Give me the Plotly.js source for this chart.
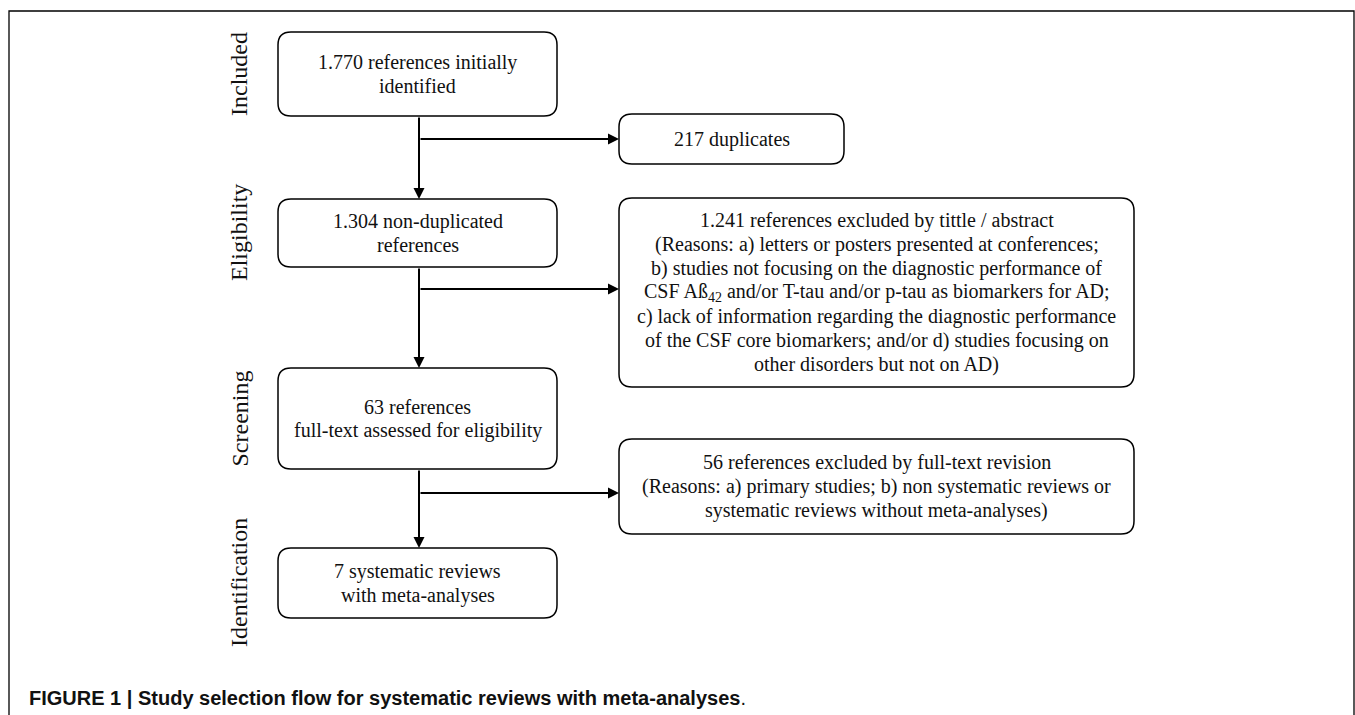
<!DOCTYPE html>
<html>
<head>
<meta charset="utf-8">
<script src="https://cdn.plot.ly/plotly-3.0.1.min.js"></script>
<style>html,body{margin:0;padding:0;background:#fff;}#chart{width:1355px;height:715px;}</style>
</head>
<body>
<div id="chart"></div>
<script>
// ---- content (data) ----
const stageLabels = ['Included', 'Eligibility', 'Screening', 'Identification'];
const mainBoxLines = [
  ['1.770 references initially', 'identified'],
  ['1.304 non-duplicated', 'references'],
  ['63 references', 'full-text assessed for eligibility'],
  ['7 systematic reviews', 'with meta-analyses']
];
const sideBoxLines = [
  ['217 duplicates'],
  ['1.241 references excluded by tittle / abstract',
   '(Reasons: a) letters or posters presented at conferences;',
   'b) studies not focusing on the diagnostic performance of',
   'CSF Aß<sub>42</sub> and/or T-tau and/or p-tau as biomarkers for AD;',
   'c) lack of information regarding the diagnostic performance',
   'of the CSF core biomarkers; and/or d) studies focusing on',
   'other disorders but not on AD)'],
  ['56 references excluded by full-text revision',
   '(Reasons: a) primary studies; b) non systematic reviews or',
   'systematic reviews without meta-analyses)']
];
const captionText = '<b>FIGURE 1 | Study selection flow for systematic reviews with meta-analyses</b>.';

// ---- geometry / layout (pixel coordinates) ----
const geo = {
  frame: {x0: 9, y0: 11, x1: 1354, y1: 740},
  main: [
    {x0: 278, x1: 557, y0: 32, y1: 116},
    {x0: 278, x1: 557, y0: 199, y1: 267},
    {x0: 278, x1: 557, y0: 368, y1: 469},
    {x0: 278, x1: 557, y0: 548, y1: 618}
  ],
  side: [
    {x0: 619, x1: 844, y0: 114, y1: 164},
    {x0: 619, x1: 1134, y0: 198, y1: 387},
    {x0: 619, x1: 1134, y0: 439, y1: 534}
  ],
  branchY: [139, 289, 493],
  spineX: 419,
  labelX: 239,
  lineGap: 24,
  radius: 13
};

const serif = 'Liberation Serif, Times New Roman, serif';
const shapes = [];
const annotations = [];

function roundRect(b, r) {
  const {x0, x1, y0, y1} = b;
  return `M${x0 + r},${y0} L${x1 - r},${y0} Q${x1},${y0} ${x1},${y0 + r} ` +
         `L${x1},${y1 - r} Q${x1},${y1} ${x1 - r},${y1} L${x0 + r},${y1} ` +
         `Q${x0},${y1} ${x0},${y1 - r} L${x0},${y0 + r} Q${x0},${y0} ${x0 + r},${y0} Z`;
}

function addBox(b, lines) {
  shapes.push({type: 'path', xref: 'x', yref: 'y', path: roundRect(b, geo.radius),
    line: {color: '#000', width: 1.5}, fillcolor: 'rgba(0,0,0,0)', layer: 'above'});
  const cx = (b.x0 + b.x1) / 2, cy = (b.y0 + b.y1) / 2;
  const n = lines.length;
  lines.forEach((t, i) => {
    annotations.push({x: cx, y: cy + (i - (n - 1) / 2) * geo.lineGap, xref: 'x', yref: 'y',
      text: t, showarrow: false, xanchor: 'center', yanchor: 'middle',
      font: {family: serif, size: 20, color: '#111'}});
  });
}

// frame
shapes.push({type: 'rect', xref: 'x', yref: 'y', x0: geo.frame.x0, x1: geo.frame.x1,
  y0: geo.frame.y0, y1: geo.frame.y1, line: {color: '#000', width: 1.3}});

geo.main.forEach((b, i) => addBox(b, mainBoxLines[i]));
geo.side.forEach((b, i) => addBox(b, sideBoxLines[i]));

function arrow(x0, y0, x1, y1) {
  annotations.push({x: x1, y: y1, ax: x0, ay: y0, xref: 'x', yref: 'y', axref: 'x', ayref: 'y',
    text: '', showarrow: true, arrowhead: 2, arrowsize: 1.1, arrowwidth: 2, arrowcolor: '#000',
    standoff: 0, startstandoff: 0});
}

// vertical arrows between main boxes
for (let i = 0; i < geo.main.length - 1; i++) {
  arrow(geo.spineX, geo.main[i].y1, geo.spineX, geo.main[i + 1].y0);
}
// side arrows
geo.branchY.forEach((y, i) => arrow(geo.spineX, y, geo.side[i].x0, y));

// stage labels
stageLabels.forEach((t, i) => {
  const b = geo.main[i];
  annotations.push({x: geo.labelX, y: (b.y0 + b.y1) / 2, xref: 'x', yref: 'y', text: t,
    textangle: -90, showarrow: false, xanchor: 'center', yanchor: 'middle',
    font: {family: serif, size: 24, color: '#111'}});
});

// caption
annotations.push({x: 27, y: 698, xref: 'x', yref: 'y', text: captionText, showarrow: false,
  xanchor: 'left', yanchor: 'middle',
  font: {family: 'Liberation Sans, Arial, sans-serif', size: 20, color: '#111'}});

const layout = {
  width: 1355, height: 715,
  margin: {l: 0, r: 0, t: 0, b: 0},
  paper_bgcolor: '#fff', plot_bgcolor: '#fff',
  showlegend: false,
  xaxis: {range: [0, 1355], visible: false, fixedrange: true},
  yaxis: {range: [715, 0], visible: false, fixedrange: true},
  shapes: shapes,
  annotations: annotations
};

Plotly.newPlot('chart', [{x: [], y: [], type: 'scatter', mode: 'markers', hoverinfo: 'skip'}], layout,
  {displayModeBar: false, staticPlot: true});
</script>
</body>
</html>
